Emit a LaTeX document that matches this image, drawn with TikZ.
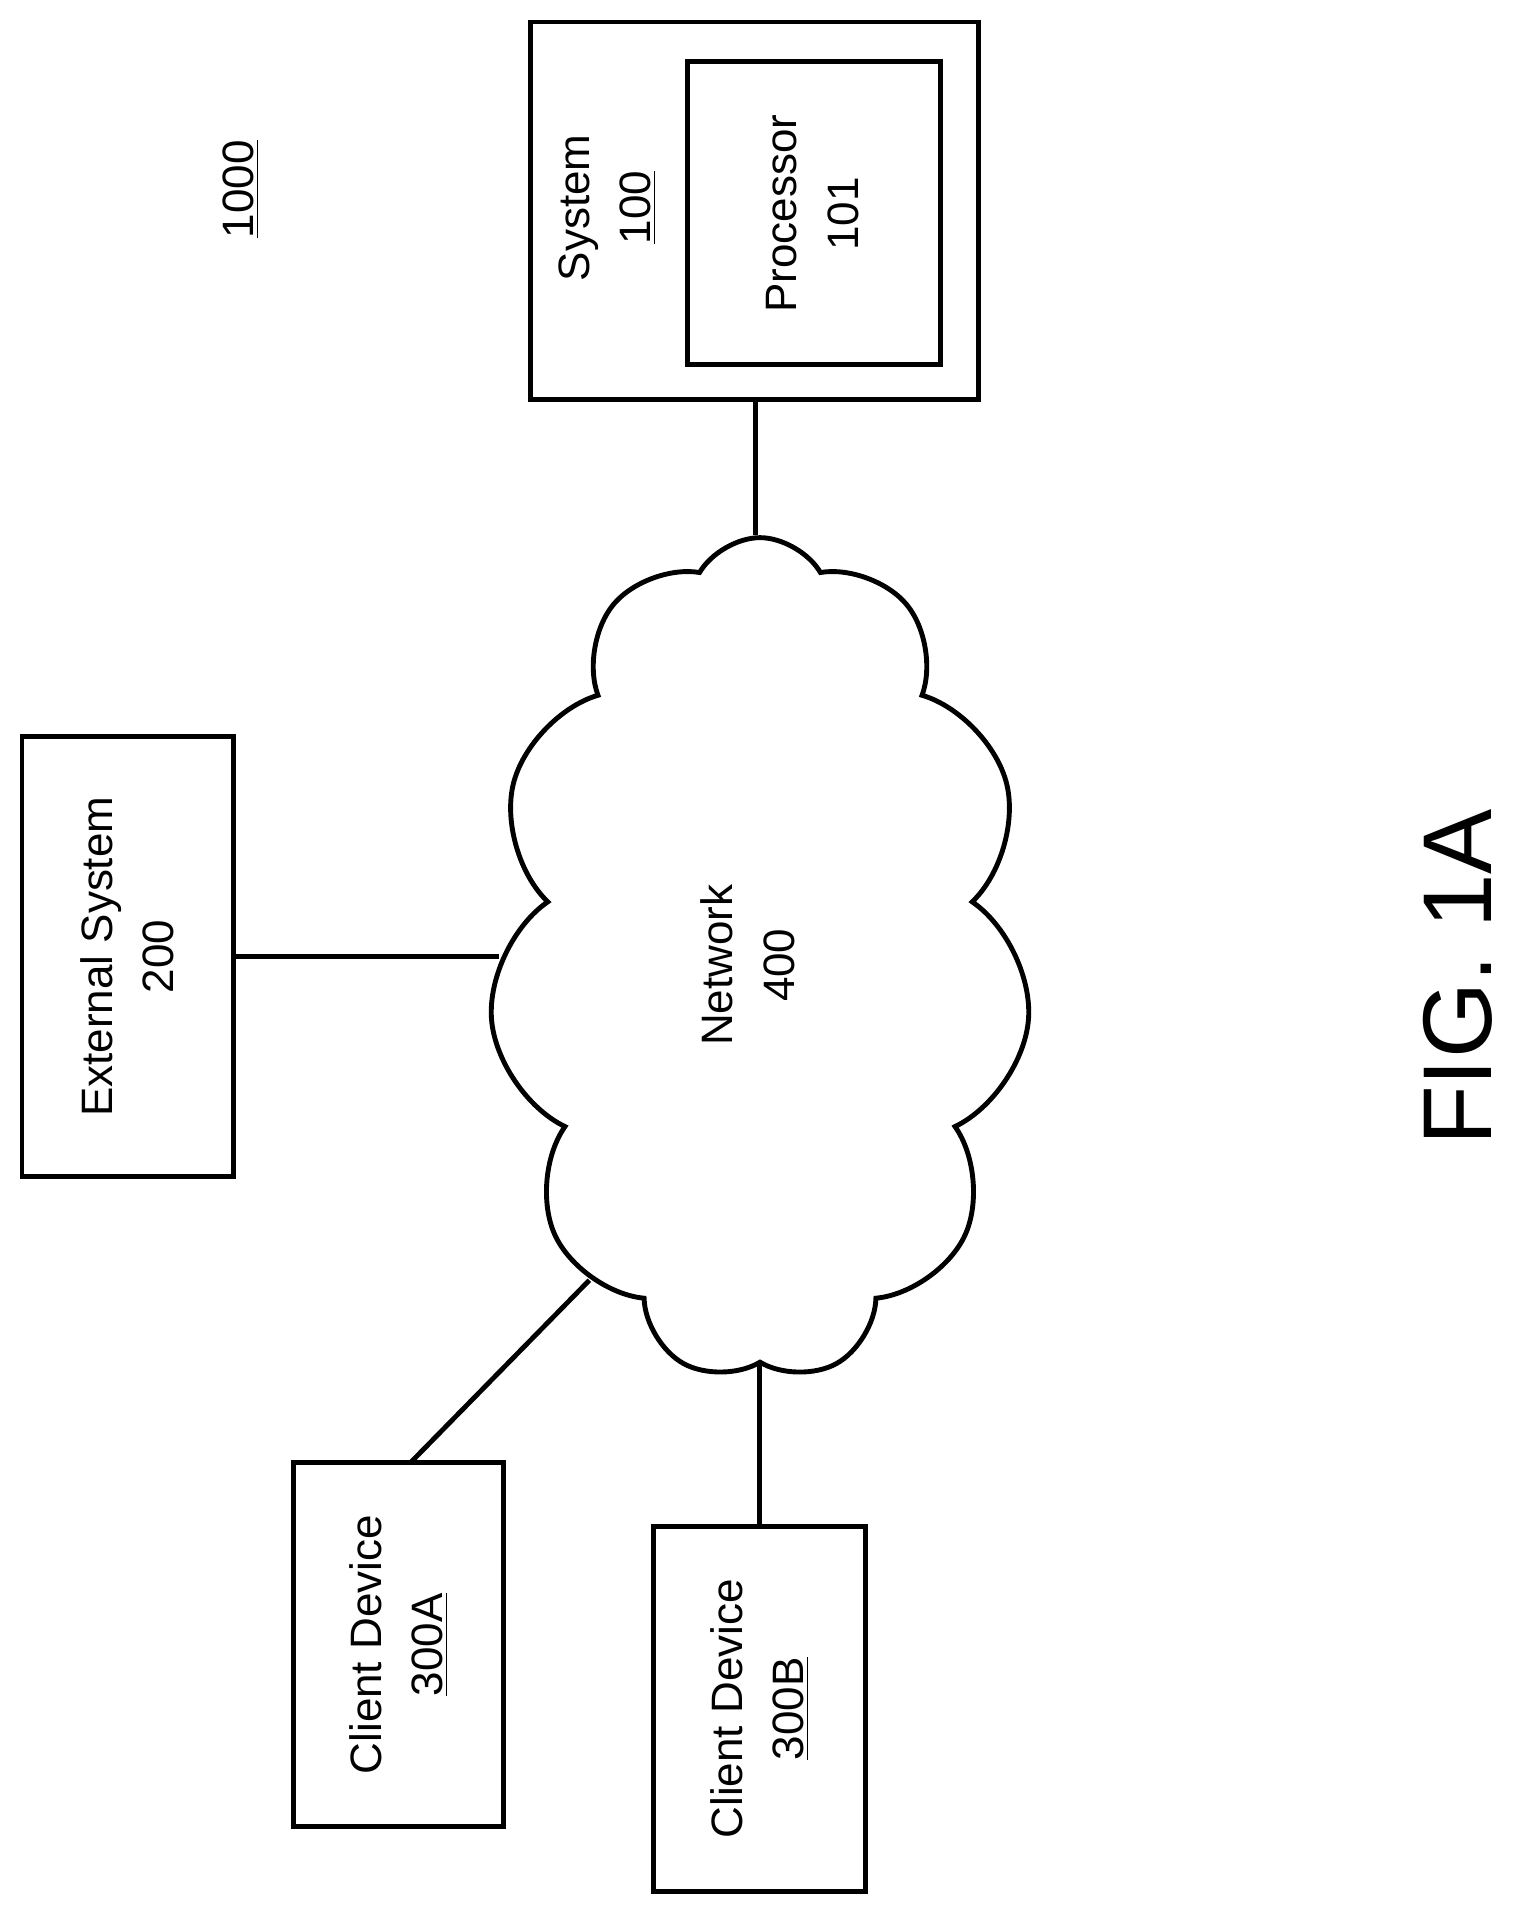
\documentclass[tikz,border=0pt]{standalone}
\usepackage{fontspec}
\setmainfont{Liberation Sans}
\usetikzlibrary{shapes.symbols}
\begin{document}
\begin{tikzpicture}[x=0.5pt,y=-0.5pt,
  box/.style={draw,line width=2pt},
  lbl/.style={rotate=90,align=center,font=\fontsize{18}{25}\selectfont},
  wire/.style={line width=2pt}]
\useasboundingbox (0,0) rectangle (1240,1564);
% System 100
\draw[box] (434,18) rectangle (801,327);
\node[box,minimum width=103.5pt,minimum height=124pt,inner sep=0pt] (proc) at (666.5,174) {};
\coordinate (sysb) at (618,327);
\node[lbl] (syst) at (497,170) {System\\\underline{100}};
\node[lbl] (proct) at (665,175) {Processor\\101};
\node[lbl] (lab) at (197,155) {\underline{1000}};
% cloud
\node[cloud,draw,line width=2pt,cloud puffs=11,cloud puff arc=120,aspect=0.62,
  minimum width=222pt,minimum height=345pt,inner sep=0pt] (net) at (622,785) {};
\node[lbl] (nett) at (612,790) {Network\\400};
% External
\node[box,minimum width=86.5pt,minimum height=180pt,inner sep=0pt] (ext) at (104.5,783) {};
\node[lbl] at (ext) {External System\\200};
% Client A
\node[box,minimum width=86pt,minimum height=149pt,inner sep=0pt] (ca) at (326,1346) {};
\node[lbl] at (ca) {Client Device\\\underline{300A}};
% Client B
\node[box,minimum width=86.5pt,minimum height=149.5pt,inner sep=0pt] (cb) at (621.5,1398.5) {};
\node[lbl] at (cb) {Client Device\\\underline{300B}};
% FIG
\node[rotate=90,font=\fontsize{40}{46}\selectfont] (fig) at (1193,800) {FIG. 1A};
% wires
\draw[wire] (sysb) -- (sysb |- net.north);
\draw[wire] (ext.east) -- (net.west |- ext.east);
\draw[wire] (cb.north) -- (cb.north |- net.south);
\draw[wire] (336,1197) -- (net.-118);
\end{tikzpicture}
\end{document}
